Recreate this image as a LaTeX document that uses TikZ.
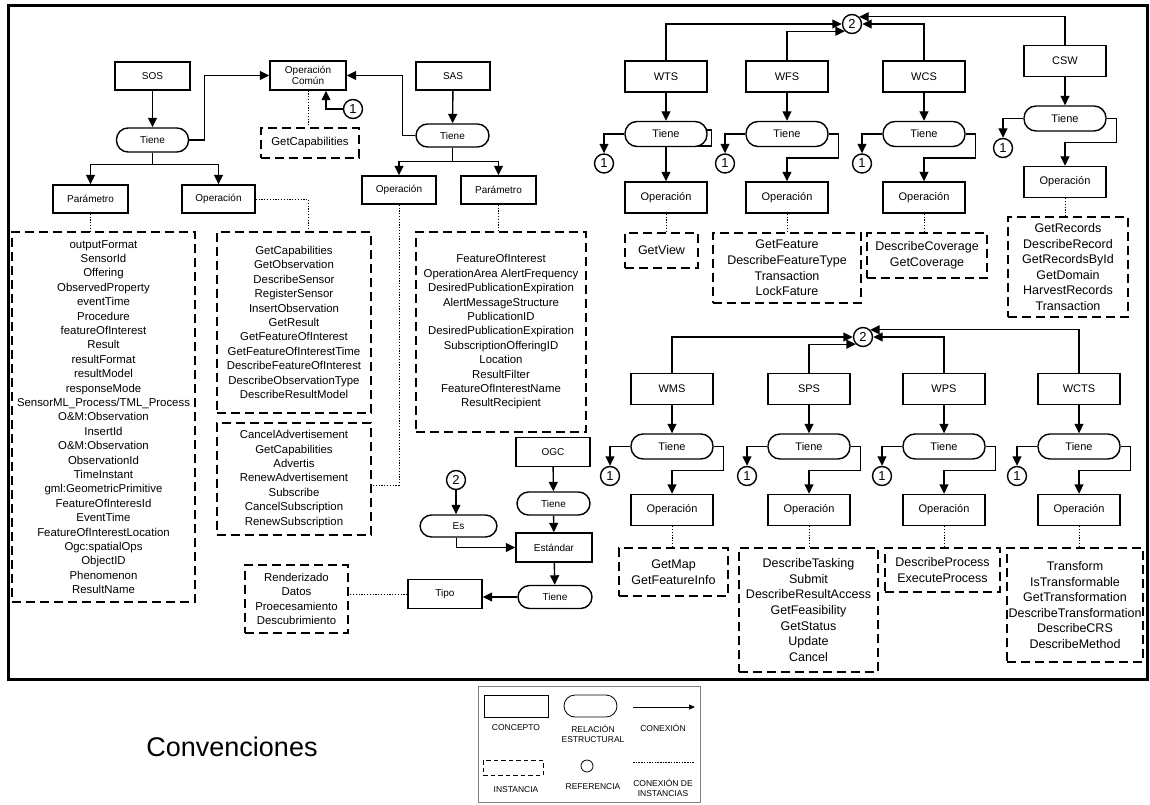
\documentclass[tikz,border=0pt]{standalone}
\usepackage{fontspec}
\setmainfont{Liberation Sans}
\usetikzlibrary{arrows.meta,calc}

\begin{document}
\begin{tikzpicture}[x=1pt,y=-1pt,
  line width=1.4pt,
  >={Triangle[length=9.5pt,width=9pt]},
  concept/.style={draw, rectangle, minimum width=75pt, minimum height=28pt, inner sep=0pt,
    font=\fontsize{10}{12}\selectfont},
  rconcept/.style={concept, minimum width=82pt, minimum height=31pt, font=\fontsize{11}{13}\selectfont},
  relation/.style={draw, rectangle, rounded corners=11.5pt, minimum width=72pt, minimum height=24pt,
    inner sep=0pt, font=\fontsize{10}{12}\selectfont},
  rrelation/.style={relation, rounded corners=12pt, minimum width=82pt, minimum height=25pt,
    font=\fontsize{11}{13}\selectfont},
  refc/.style={draw, circle, minimum size=19pt, inner sep=0pt, font=\fontsize{13}{14}\selectfont},
  inst/.style={draw, dash pattern=on 9pt off 5pt, line width=2.3pt, inner sep=0pt, align=center,
    font=\fontsize{11.4}{14.4}\selectfont},
  rinst/.style={inst, font=\fontsize{12.5}{15.6}\selectfont},
  link/.style={->},
  ilink/.style={line width=1pt, dash pattern=on 1.2pt off 1.6pt},
  legtext/.style={align=center, font=\fontsize{8.5}{10.5}\selectfont, inner sep=0pt},
]
\useasboundingbox (0,0) rectangle (1150,805);

% outer frame
\draw[line width=3pt] (8,6) rectangle (1147,679);

% ---------- SOS ----------
\node[concept] (sos) at (152.5,76) {SOS};
\node[relation] (sost) at (152.5,140) {Tiene};
\node[concept] (sospar) at (90.5,199) {Parámetro};
\node[concept, minimum width=73pt] (sosop) at (218.5,199) {Operación};
\node[concept, minimum width=76pt, minimum height=29pt, align=center,
  font=\fontsize{10}{11.5}\selectfont] (opc) at (308,75.5) {Operación\\Común};
\node[refc] (ref1a) at (353,109) {1};
\node[inst, minimum width=98pt, minimum height=30pt] (gcap) at (310,143) {GetCapabilities};

\node[inst, minimum width=183pt, minimum height=370pt] (sospars) at (103.5,417) {%
outputFormat\\SensorId\\Offering\\ObservedProperty\\eventTime\\Procedure\\featureOfInterest\\Result\\
resultFormat\\resultModel\\responseMode\\SensorML\_Process/TML\_Process\\O\&M:Observation\\InsertId\\
O\&M:Observation\\ObservationId\\TimeInstant\\gml:GeometricPrimitive\\FeatureOfInteresId\\EventTime\\
FeatureOfInterestLocation\\Ogc:spatialOps\\ObjectID\\Phenomenon\\ResultName};

\node[inst, minimum width=154pt, minimum height=181pt] (sosops) at (294,322.5) {%
GetCapabilities\\GetObservation\\DescribeSensor\\RegisterSensor\\InsertObservation\\GetResult\\
GetFeatureOfInterest\\GetFeatureOfInterestTime\\DescribeFeatureOfInterest\\DescribeObservationType\\
DescribeResultModel};

\draw[link] (sos) -- (sost);
\draw[link] (sost.east) -- ++(15,0) |- (opc.west);
\draw[link] (sost.south) -- ++(0,12) -| (sospar.north);
\draw[link] (sost.south) -- ++(0,12) -| (sosop.north);
\draw[ilink] (sospar.south) -- (sospar.south |- sospars.north);
\draw[ilink] (sosop.east) -| ($(sosops.north)+(14,0)$);
\draw[link] (ref1a.west) -| ($(opc.south)+(18,0)$);
\draw[ilink] (opc.south) -- (opc.south |- gcap.north);

% ---------- SAS ----------
\node[concept, minimum width=74pt] (sas) at (453,76) {SAS};
\node[relation, minimum width=73pt, minimum height=23pt] (sast) at (452.5,135.5) {Tiene};
\node[concept, minimum width=74pt] (sasop) at (399,190) {Operación};
\node[concept] (saspar) at (498.5,190) {Parámetro};

\node[inst, minimum width=154pt, minimum height=112pt] (sasops) at (294,479) {%
CancelAdvertisement\\GetCapabilities\\Advertis\\RenewAdvertisement\\Subscribe\\CancelSubscription\\
RenewSubscription};

\node[inst, minimum width=170pt, minimum height=200pt] (saspars) at (501,332) {%
FeatureOfInterest\\OperationArea AlertFrequency\\DesiredPublicationExpiration\\AlertMessageStructure\\
PublicationID\\DesiredPublicationExpiration\\SubscriptionOfferingID\\Location\\ResultFilter\\
FeatureOfInterestName\\ResultRecipient};

\draw[link] (sas) -- (sast);
\draw[link] (sast.west) -- ++(-13,0) |- (opc.east);
\draw[link] (sast.south) -- ++(0,14) -| (sasop.north);
\draw[link] (sast.south) -- ++(0,14) -| (saspar.north);
\draw[ilink] (saspar.south) -- (saspar.south |- saspars.north);
\draw[ilink] (sasop.south) |- ($(sasops.east)+(0,6)$);

% ---------- OGC ----------
\node[concept, minimum width=74pt, minimum height=29pt] (ogc) at (553,452) {OGC};
\node[relation, minimum width=73pt, minimum height=23pt] (ogct) at (553.5,503.5) {Tiene};
\node[concept, minimum width=76pt, minimum height=29pt] (std) at (554,547.5) {Estándar};
\node[refc] (ref2c) at (456,480) {2};
\node[relation, minimum width=77pt, minimum height=22pt] (es) at (458.5,526) {Es};
\node[relation, minimum width=74pt, minimum height=23pt] (stdt) at (555,597) {Tiene};
\node[concept, minimum width=74pt, minimum height=29pt] (tipo) at (445,594) {Tipo};
\node[inst, minimum width=103pt, minimum height=68pt] (render) at (296.5,599) {%
Renderizado\\Datos\\Proecesamiento\\Descubrimiento};

\draw[link] (ogc) -- (ogct);
\draw[link] (ogct) -- (std);
\draw[link] (ref2c) -- (ref2c |- es.north);
\draw[link] ($(es.south)+(-2,0)$) |- (std.west);
\draw[link] (std) -- (stdt);
\draw[link] (stdt.west) -- (stdt.west -| tipo.east);
\draw[ilink] (tipo.west) -- (tipo.west -| render.east);

% ---------- web services ----------
\foreach \n/\lab/\x/\y in {wts/WTS/666/76.5, wfs/WFS/787/76.5, wcs/WCS/924/76.5, csw/CSW/1065/61,
    wms/WMS/672/389, sps/SPS/809/389, wps/WPS/944/389, wcts/WCTS/1079/389}{
  \node[rconcept] (\n) at (\x,\y) {\lab};
  \node[rrelation] (\n-t) at (\x,\y+57.5) {Tiene};
  \node[refc] (\n-r) at (\x-62,\y+87) {1};
  \node[rconcept] (\n-op) at (\x,\y+121) {Operación};
  \draw[link] (\n) -- (\n-t);
  \draw[link] (\n-t.west) -| (\n-r.north);
}
\foreach \n in {wfs,wcs,csw,wms,sps,wps,wcts}{
  \draw[link] (\n-t.east) -- ++(10,0) |- ($(\n-t.center)+(0,24)$) -- (\n-op.north);
}
\draw[link] (wts-t) -- (wts-op);
\draw[line width=1.1pt] ($(wts-t.east)+(-2,-4)$) -- ++(6,0) -- ++(0,16) -- ++(-14,0);

% shared references
\node[refc] (ref2t) at (852,24) {2};
\draw[link] (wts.north) |- (ref2t.west);
\draw[link] (wfs.north) |- (ref2t.south west);
\draw[link] (wcs.north) |- (ref2t.east);
\draw[link] (csw.north) |- (ref2t.north east);

\node[refc] (ref2b) at (863,337) {2};
\draw[link] (wms.north) |- (ref2b.west);
\draw[link] (sps.north) |- (ref2b.south west);
\draw[link] (wps.north) |- (ref2b.east);
\draw[link] (wcts.north) |- (ref2b.north east);

% operation lists
\node[rinst, minimum width=73pt, minimum height=35pt] (wts-l) at (661.5,250.5) {GetView};
\node[rinst, minimum width=148pt, minimum height=70pt] (wfs-l) at (787,268) {%
GetFeature\\DescribeFeatureType\\Transaction\\LockFature};
\node[rinst, minimum width=120pt, minimum height=45pt] (wcs-l) at (927,255.5) {%
DescribeCoverage\\GetCoverage};
\node[rinst, minimum width=120pt, minimum height=100pt] (csw-l) at (1068,267) {%
GetRecords\\DescribeRecord\\GetRecordsById\\GetDomain\\HarvestRecords\\Transaction};
\node[rinst, minimum width=109pt, minimum height=48pt] (wms-l) at (673.5,572) {%
GetMap\\GetFeatureInfo};
\node[rinst, minimum width=139pt, minimum height=124pt] (sps-l) at (808.5,610) {%
DescribeTasking\\Submit\\DescribeResultAccess\\GetFeasibility\\GetStatus\\Update\\Cancel};
\node[rinst, minimum width=115pt, minimum height=44pt] (wps-l) at (942.5,570) {%
DescribeProcess\\ExecuteProcess};
\node[rinst, minimum width=136pt, minimum height=114pt] (wcts-l) at (1075,605) {%
Transform\\IsTransformable\\GetTransformation\\DescribeTransformation\\DescribeCRS\\DescribeMethod};

\foreach \n in {wts,wfs,wcs,csw,wms,sps,wps,wcts}{
  \draw[ilink] (\n-op.south) -- (\n-op.south |- \n-l.north);
}

% ---------- legend ----------
\node[font=\fontsize{27}{30}\selectfont, inner sep=0pt] (conv) at (232,747) {Convenciones};
\node[draw=gray, line width=0.8pt, minimum width=222pt, minimum height=116pt, inner sep=0pt] (lgbox) at (589,744) {};
\node[draw, line width=0.8pt, minimum width=64pt, minimum height=22pt, inner sep=0pt] (lg-c) at (516,706) {};
\node[draw, line width=0.8pt, rounded corners=11pt, minimum width=53pt, minimum height=22pt, inner sep=0pt] (lg-r) at (590.5,706) {};
\coordinate (lg-a1) at (633,707);
\coordinate (lg-a2) at (695,707);
\draw[line width=0.8pt, -{Triangle[length=6pt,width=5pt]}] (lg-a1) -- (lg-a2);
\node[draw, line width=0.9pt, dash pattern=on 4.5pt off 3pt, minimum width=60pt, minimum height=15pt, inner sep=0pt] (lg-i) at (513,767.5) {};
\node[draw, circle, line width=0.8pt, minimum size=12pt, inner sep=0pt] (lg-ref) at (587,766) {};
\coordinate (lg-d1) at (633,762);
\coordinate (lg-d2) at (695,762);
\draw[line width=0.6pt, dash pattern=on 1.5pt off 1.2pt] (lg-d1) -- (lg-d2);
\node[legtext] (lt-c) at (516,728) {CONCEPTO};
\node[legtext] (lt-r) at (593,734) {RELACIÓN\\ESTRUCTURAL};
\node[legtext] (lt-a) at (663,728) {CONEXIÓN};
\node[legtext] (lt-i) at (516,790) {INSTANCIA};
\node[legtext] (lt-ref) at (593,787) {REFERENCIA};
\node[legtext] (lt-d) at (663,788) {CONEXIÓN DE\\INSTANCIAS};
\end{tikzpicture}
\end{document}
